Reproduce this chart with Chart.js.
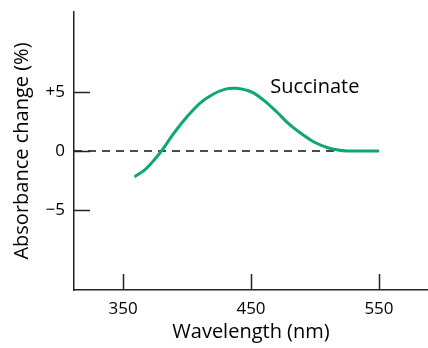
<!DOCTYPE html>
<html>
<head>
<meta charset="utf-8">
<script src="https://cdn.jsdelivr.net/npm/chart.js@4/dist/chart.umd.min.js"></script>
<style>
  html, body { margin: 0; padding: 0; background: #fff; }
  #caja { width: 428px; height: 348px; }
</style>
</head>
<body>
<div id="caja"><canvas id="grafico"></canvas></div>
<script>
// datos
const longitudes = [359, 367, 372, 380, 390, 400, 410, 420, 430, 438, 450, 460, 470, 480, 490, 500, 510, 518, 525, 537, 550]
const absorbancia = [-2.2, -1.6, -1.05, 0.0, 1.55, 2.9, 4.05, 4.8, 5.25, 5.32, 5.03, 4.3, 3.33, 2.25, 1.42, 0.72, 0.28, 0.08, 0.0, 0.0, 0.0]
const ticksX = [350, 450, 550]
const ticksY = [-5, 0, 5]
const lineaCero = [[311.7, 0], [550, 0]]
const etiqueta = {texto: "Succinate", x: 465, y: 5.4}

const verde = "#0fa86c"
const fuente = "'Open Sans', 'Noto Sans', sans-serif"

const puntos = longitudes.map((l, i) => ({x: l, y: absorbancia[i]}))

// marcas de escala hacia adentro + texto de la curva
const marcas = {
	id: "marcas",
	afterDraw(chart){
		const ctx = chart.ctx
		const sx = chart.scales.x, sy = chart.scales.y
		const area = chart.chartArea
		ctx.save()
		ctx.strokeStyle = "#222"
		ctx.lineWidth = 1.5
		ticksX.forEach(v => {
			const px = Math.round(sx.getPixelForValue(v)) + 0.5
			ctx.beginPath()
			ctx.moveTo(px, area.bottom)
			ctx.lineTo(px, area.bottom - 16)
			ctx.stroke()
		})
		ticksY.forEach(v => {
			const py = Math.round(sy.getPixelForValue(v)) + 0.5
			ctx.beginPath()
			ctx.moveTo(area.left, py)
			ctx.lineTo(area.left + 16, py)
			ctx.stroke()
		})
		ctx.fillStyle = "#000"
		ctx.font = "20px " + fuente
		ctx.textBaseline = "middle"
		ctx.textAlign = "left"
		ctx.fillText(etiqueta.texto, sx.getPixelForValue(etiqueta.x), sy.getPixelForValue(etiqueta.y))
		ctx.restore()
	}
}

new Chart("grafico", {
	type: "line",
	data: {
		datasets: [
			{
				data: puntos,
				borderColor: verde,
				borderWidth: 3,
				pointRadius: 0,
				tension: 0.35,
				fill: false,
				order: 0
			},
			{
				data: lineaCero.map(p => ({x: p[0], y: p[1]})),
				borderColor: "#111",
				borderWidth: 1.5,
				borderDash: [8, 6],
				pointRadius: 0,
				fill: false,
				order: 1
			}
		]
	},
	options: {
		responsive: true,
		maintainAspectRatio: false,
		animation: false,
		layout: {padding: {top: 12, left: 0, right: 0, bottom: 0}},
		plugins: {legend: {display: false}, tooltip: {enabled: false}},
		scales: {
			x: {
				type: "linear",
				min: 311.7,
				max: 588.3,
				afterBuildTicks: s => { s.ticks = ticksX.map(v => ({value: v})) },
				afterFit: s => { s.height = 58; s.paddingLeft = 0; s.paddingRight = 0 },
				grid: {display: false, drawTicks: false},
				border: {display: true, color: "#222", width: 1.5},
				ticks: {color: "#000", font: {size: 17, family: fuente}, padding: 9},
				title: {display: true, text: "Wavelength (nm)", color: "#000", font: {size: 20, family: fuente}, padding: {top: 2, bottom: 4}}
			},
			y: {
				min: -11.8,
				max: 11.8,
				afterBuildTicks: s => { s.ticks = ticksY.map(v => ({value: v})) },
				afterFit: s => { s.width = 74; s.paddingTop = 0; s.paddingBottom = 0 },
				grid: {display: false, drawTicks: false},
				border: {display: true, color: "#222", width: 1.5},
				ticks: {
					color: "#000",
					font: {size: 17, family: fuente},
					padding: 9,
					callback: v => v > 0 ? "+" + v : (v < 0 ? "\u2212" + Math.abs(v) : "0")
				},
				title: {display: true, text: "Absorbance change (%)", color: "#000", font: {size: 20, family: fuente}, padding: {top: 10, bottom: 4}}
			}
		}
	},
	plugins: [marcas]
})
</script>
</body>
</html>
